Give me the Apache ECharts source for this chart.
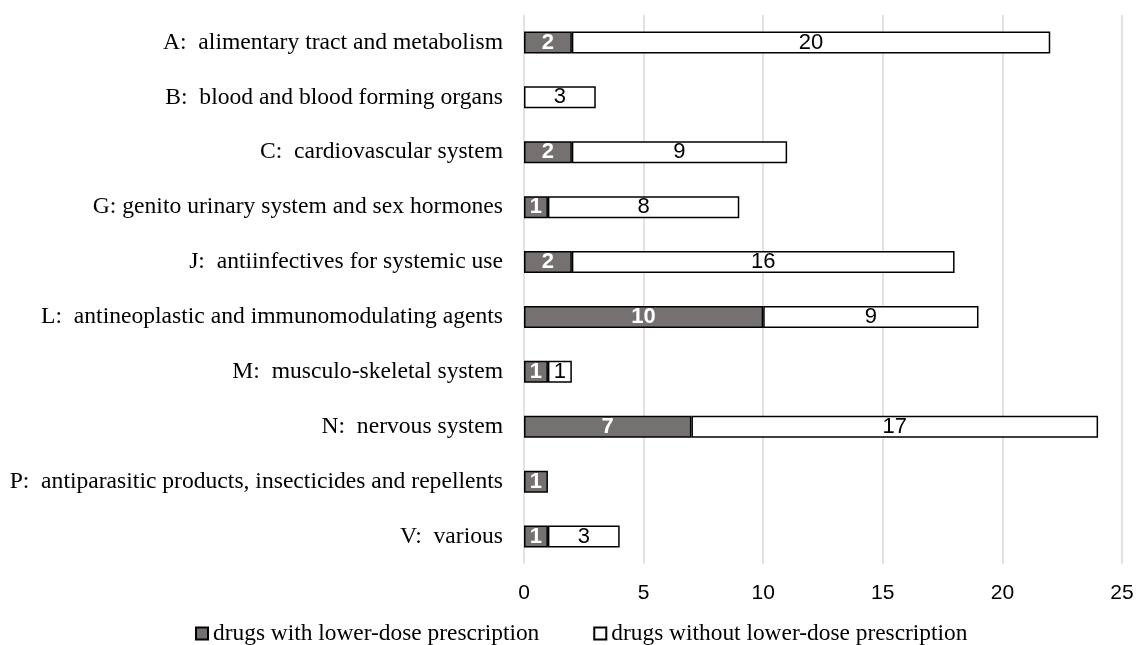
<!DOCTYPE html>
<html>
<head>
<meta charset="utf-8">
<script src="https://cdn.jsdelivr.net/npm/echarts@6/dist/echarts.min.js"></script>
<style>
  html, body { margin: 0; padding: 0; background: #fff; }
  #chart { width: 1137px; height: 645px; }
</style>
</head>
<body>
<div id="chart"></div>
<script>
// ATC groups, listed top to bottom
const categories = [
  'A:  alimentary tract and metabolism',
  'B:  blood and blood forming organs',
  'C:  cardiovascular system',
  'G: genito urinary system and sex hormones',
  'J:  antiinfectives for systemic use',
  'L:  antineoplastic and immunomodulating agents',
  'M:  musculo-skeletal system',
  'N:  nervous system',
  'P:  antiparasitic products, insecticides and repellents',
  'V:  various'
];
const withLowerDose    = [2, 0, 2, 1, 2, 10, 1, 7, 1, 1];
const withoutLowerDose = [20, 3, 9, 8, 16, 9, 1, 17, 0, 3];
const seriesNames = ['drugs with lower-dose prescription', 'drugs without lower-dose prescription'];
const xTicks = { min: 0, max: 25, interval: 5 };

// empty groups get no bar at all
const toBars = arr => arr.map(v => (v === 0 ? null : v));

const chart = echarts.init(document.getElementById('chart'), null, { renderer: 'canvas' });
chart.setOption({
  animation: false,
  backgroundColor: '#ffffff',
  grid: { left: 524, right: 15, top: 15, bottom: 81 },
  xAxis: {
    type: 'value',
    min: xTicks.min, max: xTicks.max, interval: xTicks.interval,
    axisLine: { show: false },
    axisTick: { show: false },
    axisLabel: { color: '#000', fontFamily: 'Liberation Sans', fontSize: 21, margin: 19 },
    splitLine: { show: true, lineStyle: { color: '#d9d9d9', width: 1.5 } }
  },
  yAxis: {
    type: 'category',
    data: categories,
    inverse: true,
    axisLine: { show: false },
    axisTick: { show: false },
    axisLabel: { color: '#000', fontFamily: 'Liberation Serif', fontSize: 23.6, margin: 21 }
  },
  legend: {
    data: seriesNames,
    left: 190, top: 617,
    icon: 'rect', itemWidth: 12, itemHeight: 12, itemGap: 54,
    textStyle: { color: '#000', fontFamily: 'Liberation Serif', fontSize: 23.4 }
  },
  series: [
    {
      name: seriesNames[0],
      type: 'bar', stack: 'total',
      data: toBars(withLowerDose),
      barCategoryGap: '60%',
      itemStyle: { color: '#767171', borderColor: '#000', borderWidth: 1.5 },
      label: {
        show: true, position: 'inside', color: '#fff', fontWeight: 'bold',
        fontFamily: 'Liberation Sans', fontSize: 22
      }
    },
    {
      name: seriesNames[1],
      type: 'bar', stack: 'total',
      data: toBars(withoutLowerDose),
      barCategoryGap: '60%',
      itemStyle: { color: '#ffffff', borderColor: '#000', borderWidth: 1.5 },
      label: {
        show: true, position: 'inside', color: '#000',
        fontFamily: 'Liberation Sans', fontSize: 22
      }
    }
  ]
});
</script>
</body>
</html>
